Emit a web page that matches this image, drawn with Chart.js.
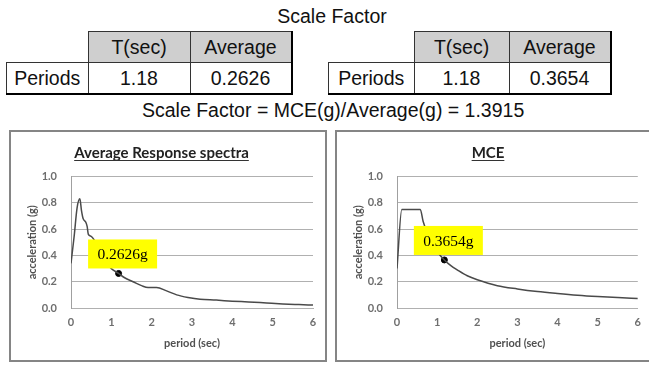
<!DOCTYPE html>
<html>
<head>
<meta charset="utf-8">
<script src="https://cdn.jsdelivr.net/npm/chart.js@4.4.0/dist/chart.umd.min.js"></script>
<style>
  body { margin: 0; width: 649px; height: 365px; background: #fff; position: relative; overflow: hidden;
         font-family: "Liberation Sans", Arial, sans-serif; color: #111; }
  .head { position: absolute; font-size: 19.5px; line-height: 20px; white-space: nowrap; }
  table { position: absolute; border-collapse: collapse; font-size: 19.5px; }
  td { height: 30px; padding: 0; text-align: center; border: 1px solid #333; }
  td.blank { border: none; }
  tr.hdr td { background: #cfcfcf; }
  tr.hdr td.blank { background: none; }
  tr.row td { border-bottom: 2.5px solid #000; }
  td.last { border-right: 2px solid #000; }
  .box { position: absolute; box-sizing: border-box; border: 2px solid #858585; top: 130px; height: 232px; }
  canvas { position: absolute; }
</style>
</head>
<body>
<div class="head" style="left:0; width:664px; text-align:center; top:6px;">Scale Factor</div>

<table style="left:6px; top:31px;">
  <tr class="hdr"><td class="blank" style="width:81px"></td><td style="width:101px">T(sec)</td><td class="last" style="width:100px">Average</td></tr>
  <tr class="row"><td>Periods</td><td id="t1p"></td><td class="last" id="t1v"></td></tr>
</table>
<table style="left:328px; top:31px;">
  <tr class="hdr"><td class="blank" style="width:85px"></td><td style="width:94px">T(sec)</td><td class="last" style="width:100px">Average</td></tr>
  <tr class="row"><td>Periods</td><td id="t2p"></td><td class="last" id="t2v"></td></tr>
</table>

<div class="head" id="formula" style="left:142px; top:100px;"></div>

<div class="box" style="left:9px; width:318px;"></div>
<div class="box" style="left:335px; width:318px;"></div>
<canvas id="avgChart" width="316" height="228" style="left:10px; top:132px;"></canvas>
<canvas id="mceChart" width="313" height="228" style="left:336px; top:132px;"></canvas>

<script>
// values
const period = 1.18;
const avgAtPeriod = 0.2626;
const mceAtPeriod = 0.3654;
const scaleFactor = 1.3915;

const avgT = [0, 0.08, 0.15, 0.22, 0.26, 0.3, 0.37, 0.4, 0.43, 0.5, 0.57, 0.7, 0.8, 0.9, 1.0, 1.18,
              1.33, 1.54, 1.75, 1.91, 2.12, 2.37, 2.62, 2.9, 3.2, 3.6, 4.0, 4.4, 4.85, 5.25, 5.65, 6.0];
const avgSa = [0.34, 0.55, 0.76, 0.83, 0.74, 0.68, 0.65, 0.62, 0.56, 0.545, 0.52, 0.44, 0.38, 0.33, 0.30, 0.2626,
               0.23, 0.2, 0.17, 0.155, 0.155, 0.13, 0.1, 0.08, 0.066, 0.06, 0.052, 0.046, 0.038, 0.031, 0.026, 0.022];

const mceT = [0, 0.12, 0.58, 0.65, 0.75, 0.85, 1.0, 1.18, 1.35, 1.5, 1.75, 2.0, 2.5, 3.0, 3.5, 4.0, 4.5, 5.0, 5.5, 6.0];
const mceSa = [0.30, 0.75, 0.75, 0.66, 0.575, 0.51, 0.43, 0.3654, 0.32, 0.29, 0.245, 0.215, 0.17, 0.145, 0.125,
               0.11, 0.097, 0.087, 0.079, 0.072];

const periodTicks = [0, 1, 2, 3, 4, 5, 6];
const accelTicks = [0, 0.2, 0.4, 0.6, 0.8, 1.0];

document.getElementById('t1p').textContent = period.toFixed(2);
document.getElementById('t1v').textContent = avgAtPeriod.toFixed(4);
document.getElementById('t2p').textContent = period.toFixed(2);
document.getElementById('t2v').textContent = mceAtPeriod.toFixed(4);
document.getElementById('formula').textContent = 'Scale Factor = MCE(g)/Average(g) = ' + scaleFactor.toFixed(4);

const chartFont = 'Lato, "Liberation Sans", sans-serif';

// yellow value tag above the marked point + underline under the title
const tagPlugin = {
    id: 'tag',
    afterDatasetsDraw(chart, args, opts) {
        const pt = chart.getDatasetMeta(1).data[0];
        const ctx = chart.ctx;
        const cx = pt.x + 4, bottom = pt.y - 5, w = 69, h = 29;
        ctx.save();
        ctx.fillStyle = '#ffff00';
        ctx.fillRect(cx - w / 2, bottom - h, w, h);
        ctx.fillStyle = '#000';
        ctx.font = '15.5px "Liberation Serif", "Times New Roman", serif';
        ctx.textAlign = 'center';
        ctx.textBaseline = 'middle';
        ctx.fillText(opts.text, cx, bottom - h / 2 + 1);
        ctx.restore();
    },
    afterDraw(chart) {
        const tb = chart.titleBlock;
        const ctx = chart.ctx;
        ctx.save();
        ctx.font = 'bold 15px ' + chartFont;
        const w = ctx.measureText(tb.options.text).width;
        const cx = (tb.left + tb.right) / 2;
        const y = tb.top + tb.options.padding.top + 16;
        ctx.strokeStyle = '#333';
        ctx.lineWidth = 1;
        ctx.beginPath();
        ctx.moveTo(cx - w / 2, y + 0.5);
        ctx.lineTo(cx + w / 2, y + 0.5);
        ctx.stroke();
        ctx.restore();
    }
};

function makeChart(id, title, xs, ys, yPt, tag, rightPad) {
    new Chart(document.getElementById(id), {
        type: 'scatter',
        data: {
            datasets: [{
                data: xs.map((x, i) => ({x: x, y: ys[i]})),
                showLine: true,
                borderColor: '#4a4a4a',
                borderWidth: 1.5,
                pointRadius: 0,
                cubicInterpolationMode: 'monotone'
            }, {
                data: [{x: period, y: yPt}],
                pointRadius: 3,
                pointBackgroundColor: '#000',
                pointBorderColor: '#000',
                showLine: false
            }]
        },
        options: {
            responsive: false,
            animation: false,
            layout: {padding: {left: 0, right: rightPad, top: 0, bottom: 0}},
            plugins: {
                legend: {display: false},
                tooltip: {enabled: false},
                title: {
                    display: true, text: title, color: '#222',
                    font: {family: chartFont, size: 15, weight: 'bold'},
                    padding: {top: 12, bottom: 14.5}
                },
                tag: {text: tag}
            },
            scales: {
                x: {
                    type: 'linear', min: 0, max: 6,
                    afterBuildTicks: s => { s.ticks = periodTicks.map(v => ({value: v})); },
                    grid: {display: false, drawTicks: false},
                    border: {display: true, color: '#b0b0b0'},
                    ticks: {padding: 8, color: '#6e6e6e', font: {family: chartFont, size: 11, weight: 'bold'}},
                    title: {display: true, text: 'period (sec)', color: '#505050',
                            font: {family: chartFont, size: 11, weight: 'bold'}, padding: {top: 0, bottom: 10}},
                    afterFit: s => { s.height = 52; }
                },
                y: {
                    min: 0, max: 1,
                    afterBuildTicks: s => { s.ticks = accelTicks.map(v => ({value: v})); },
                    grid: {color: '#b0b0b0', drawTicks: false},
                    border: {display: true, color: '#a0a0a0'},
                    ticks: {padding: 14, color: '#6e6e6e', font: {family: chartFont, size: 11, weight: 'bold'},
                            callback: v => v.toFixed(1)},
                    title: {display: true, text: 'acceleration (g)', color: '#505050',
                            font: {family: chartFont, size: 11, weight: 'bold'}, padding: {top: 16, bottom: 0}},
                    afterFit: s => { s.width = 61; }
                }
            }
        },
        plugins: [tagPlugin]
    });
}

makeChart('avgChart', 'Average Response spectra', avgT, avgSa, avgAtPeriod, '0.2626g', 13);
makeChart('mceChart', 'MCE', mceT, mceSa, mceAtPeriod, '0.3654g', 9);
</script>
</body>
</html>
